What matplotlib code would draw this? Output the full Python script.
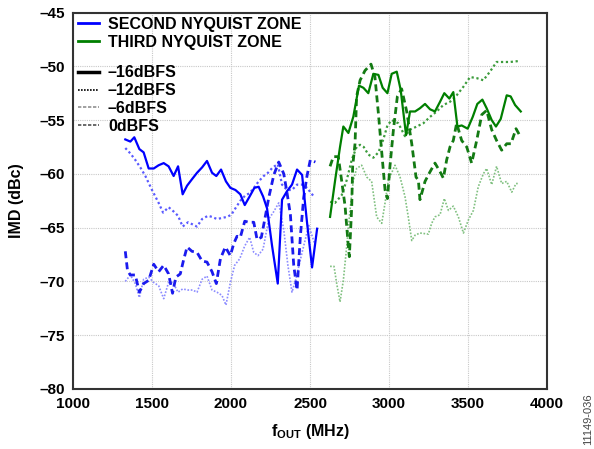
import matplotlib
matplotlib.use("Agg")
import matplotlib.pyplot as plt
from matplotlib.lines import Line2D

plt.rcParams['font.family'] = ['Liberation Sans', 'DejaVu Sans']
plt.rcParams['mathtext.fontset'] = 'custom'
plt.rcParams['mathtext.rm'] = 'Liberation Sans:bold'
plt.rcParams['mathtext.bf'] = 'Liberation Sans:bold'
plt.rcParams['mathtext.it'] = 'Liberation Sans:bold'

# ---------------- data ----------------
# Second Nyquist zone (blue)
z2_m16_f = [1331, 1363, 1388, 1420, 1447, 1479, 1511, 1542, 1574, 1605, 1637, 1665, 1694, 1722,
            1753, 1785, 1817, 1848, 1880, 1907, 1937, 1968, 1996, 2028, 2059, 2087, 2118, 2148,
            2175, 2203, 2228, 2260, 2296, 2323, 2355, 2386, 2418, 2450, 2481, 2513, 2545]
z2_m16_v = [-56.8, -57.0, -56.6, -57.7, -58.0, -59.5, -59.5, -59.2, -59.0, -59.3, -60.2, -59.3,
            -61.9, -61.1, -60.5, -59.9, -59.4, -58.8, -59.9, -60.2, -59.6, -60.7, -61.3, -61.5,
            -61.9, -62.9, -62.1, -61.3, -61.2, -62.1, -63.2, -66.7, -70.2, -62.4, -61.6, -61.0,
            -59.6, -60.1, -64.5, -68.7, -65.1]

z2_m12_f = [1331, 1363, 1394, 1426, 1458, 1500, 1542, 1570, 1605, 1637, 1665, 1694, 1728, 1757,
            1785, 1817, 1854, 1880, 1911, 1943, 1975, 2002, 2028, 2059, 2091, 2118, 2150, 2175,
            2207, 2234, 2264, 2296, 2323, 2355, 2386, 2418, 2450, 2481, 2524]
z2_m12_v = [-57.6, -58.1, -58.7, -59.4, -60.2, -61.5, -62.7, -63.6, -63.1, -63.5, -63.9, -64.9,
            -64.5, -64.7, -64.9, -64.2, -63.9, -64.0, -64.2, -64.1, -64.0, -63.8, -63.2, -62.5,
            -62.0, -61.8, -61.2, -60.7, -60.2, -59.9, -59.4, -59.1, -61.0, -61.5, -61.5, -61.0,
            -61.0, -61.3, -62.1]

z2_m6_f = [1331, 1345, 1363, 1394, 1420, 1447, 1479, 1511, 1542, 1574, 1605, 1630, 1651, 1679,
           1700, 1722, 1753, 1785, 1817, 1848, 1880, 1907, 1933, 1964, 1996, 2017, 2038, 2059,
           2087, 2112, 2144, 2165, 2192, 2218, 2239, 2271, 2302, 2334, 2355, 2376, 2397, 2418,
           2439, 2460, 2481, 2502, 2534]
z2_m6_v = [-67.2, -69.0, -69.4, -69.4, -71.0, -70.2, -69.9, -68.4, -69.1, -68.5, -69.3, -71.1,
           -69.6, -69.3, -68.0, -66.8, -67.2, -67.3, -68.1, -68.2, -69.1, -70.2, -67.9, -66.8,
           -67.6, -66.5, -65.8, -65.9, -64.4, -64.5, -64.5, -66.1, -65.9, -63.9, -62.2, -60.1,
           -58.9, -60.0, -61.8, -63.8, -68.5, -70.8, -65.8, -62.2, -60.2, -58.7, -58.9]

z2_0_f = [1331, 1363, 1394, 1420, 1447, 1479, 1511, 1542, 1574, 1605, 1632, 1665, 1694, 1728,
          1757, 1785, 1817, 1848, 1880, 1911, 1943, 1968, 1996, 2023, 2055, 2087, 2118, 2144,
          2171, 2203, 2239, 2271, 2302, 2334, 2360, 2386, 2410, 2450, 2492, 2534]
z2_0_v = [-70.0, -69.4, -70.2, -71.5, -69.8, -69.6, -70.1, -70.4, -71.6, -70.1, -70.1, -71.0,
          -70.7, -70.8, -70.8, -71.0, -69.8, -69.5, -70.8, -71.0, -71.3, -72.2, -70.1, -68.5,
          -67.9, -66.7, -65.9, -67.3, -67.6, -67.0, -64.2, -63.5, -62.7, -65.2, -68.5, -71.0,
          -69.8, -67.3, -64.8, -66.7]

# Third Nyquist zone (green)
z3_m16_f = [2627, 2660, 2690, 2711, 2743, 2774, 2810, 2838, 2869, 2901, 2933, 2960, 2990, 3017,
            3049, 3074, 3108, 3133, 3165, 3196, 3228, 3260, 3291, 3323, 3350, 3382, 3407, 3433,
            3460, 3498, 3530, 3559, 3591, 3618, 3650, 3677, 3707, 3745, 3770, 3798, 3834]
z3_m16_v = [-64.0, -60.5, -57.5, -55.6, -56.2, -54.7, -51.8, -52.0, -52.5, -50.7, -50.8, -52.0,
            -52.5, -50.7, -50.5, -52.2, -56.4, -54.2, -54.2, -53.9, -53.5, -54.0, -54.2, -53.3,
            -52.5, -53.0, -52.4, -55.6, -55.5, -55.8, -54.7, -53.5, -53.1, -53.9, -55.0, -55.6,
            -54.9, -52.7, -52.8, -53.6, -54.2]

z3_m12_f = [2627, 2658, 2700, 2732, 2764, 2795, 2817, 2840, 2869, 2901, 2933, 2964, 2990, 3017,
            3059, 3101, 3133, 3175, 3217, 3260, 3302, 3344, 3386, 3428, 3471, 3513, 3555, 3597,
            3639, 3681, 3724, 3766, 3829]
z3_m12_v = [-62.6, -62.7, -62.0, -60.6, -58.7, -57.5, -57.3, -57.5, -58.2, -58.5, -58.0, -56.8,
            -55.5, -55.0, -55.3, -56.5, -55.9, -55.6, -55.3, -54.7, -54.2, -53.6, -53.3, -52.7,
            -51.9, -51.0, -51.1, -51.3, -50.5, -49.6, -49.6, -49.6, -49.5]

z3_m6_f = [2627, 2648, 2679, 2700, 2722, 2743, 2749, 2764, 2770, 2785, 2795, 2817, 2848, 2886,
           2911, 2933, 2954, 2975, 2990, 3006, 3028, 3053, 3080, 3112, 3144, 3171, 3186, 3196,
           3228, 3260, 3291, 3323, 3344, 3365, 3386, 3407, 3428, 3460, 3492, 3523, 3555, 3587,
           3618, 3650, 3681, 3713, 3745, 3772, 3804, 3834]
z3_m6_v = [-59.3, -58.4, -58.4, -60.6, -63.0, -66.8, -67.7, -63.1, -59.3, -57.2, -52.8, -51.3,
           -50.4, -49.8, -51.0, -54.4, -58.0, -61.5, -62.3, -59.3, -55.9, -52.8, -52.1, -54.2,
           -57.2, -60.3, -60.6, -62.4, -60.7, -59.8, -59.0, -59.8, -60.4, -58.7, -57.5, -56.9,
           -55.3, -56.9, -57.5, -59.0, -56.9, -54.5, -54.1, -55.9, -56.9, -57.8, -57.2, -57.2,
           -55.8, -56.6]

z3_0_f = [2627, 2652, 2669, 2690, 2711, 2732, 2753, 2774, 2795, 2827, 2859, 2890, 2922, 2954,
          2975, 2996, 3038, 3070, 3101, 3122, 3144, 3165, 3196, 3249, 3270, 3291, 3323, 3350,
          3376, 3407, 3439, 3471, 3502, 3534, 3565, 3597, 3618, 3650, 3681, 3713, 3745, 3777,
          3804, 3825]
z3_0_v = [-68.6, -68.6, -70.2, -71.9, -69.9, -66.8, -63.4, -60.6, -59.5, -59.2, -60.3, -60.7,
          -64.0, -64.6, -62.7, -60.6, -59.2, -60.3, -62.1, -64.0, -66.2, -65.7, -65.5, -65.6,
          -64.6, -64.0, -63.8, -62.3, -63.4, -63.0, -64.0, -65.5, -64.3, -63.4, -61.2, -60.0,
          -59.5, -61.0, -59.3, -60.9, -60.7, -61.7, -60.9, -60.9]

x_ticks = [1000, 1500, 2000, 2500, 3000, 3500, 4000]
y_ticks = [-80, -75, -70, -65, -60, -55, -50, -45]
y_tick_labels = ['–80', '–75', '–70', '–65', '–60', '–55', '–50', '–45']
zone_labels = ['SECOND NYQUIST ZONE', 'THIRD NYQUIST ZONE']
level_labels = ['–16dBFS', '–12dBFS', '–6dBFS', '0dBFS']

# ---------------- figure ----------------
fig = plt.figure(figsize=(5.94, 4.49), dpi=100)
ax = fig.add_axes([73/594, 1-389/449, 474/594, 376.5/449])

BLUE = '#0000ff'
GREEN = '#007f00'

ax.plot(z2_0_f, z2_0_v, color='#8c8cff', lw=1.2, linestyle=(0, (1, 1)))
ax.plot(z2_m12_f, z2_m12_v, color='#5a5aff', lw=1.6, linestyle=(0, (1, 1.2)))
ax.plot(z2_m6_f, z2_m6_v, color='#1a1aee', lw=2.0, linestyle=(0, (2.5, 1.5)))
ax.plot(z2_m16_f, z2_m16_v, color=BLUE, lw=1.6)

ax.plot(z3_0_f, z3_0_v, color='#80c080', lw=1.2, linestyle=(0, (1, 1)))
ax.plot(z3_m12_f, z3_m12_v, color='#3c9c3c', lw=1.6, linestyle=(0, (1, 1.2)))
ax.plot(z3_m6_f, z3_m6_v, color='#137a13', lw=2.0, linestyle=(0, (2.5, 1.5)))
ax.plot(z3_m16_f, z3_m16_v, color=GREEN, lw=1.6)

ax.set_xlim(1000, 4000)
ax.set_ylim(-80, -45)
ax.set_xticks(x_ticks)
ax.set_xticklabels([str(t) for t in x_ticks])
ax.set_yticks(y_ticks)
ax.set_yticklabels(y_tick_labels)
ax.tick_params(length=0, labelsize=11, pad=6)
for lab in ax.get_xticklabels() + ax.get_yticklabels():
    lab.set_fontweight('bold')
ax.grid(True, color='#c8c8c8', linestyle=(0, (1, 1)), lw=0.8)
for sp in ax.spines.values():
    sp.set_linewidth(1.5)
    sp.set_color('#333333')

ax.set_xlabel(r'f$_{\mathbf{OUT}}$ (MHz)', fontsize=11.5, fontweight='bold', labelpad=8)
ax.set_ylabel('IMD (dBc)', fontsize=11.5, fontweight='bold', labelpad=11)

h1 = [Line2D([], [], color=BLUE, lw=2), Line2D([], [], color=GREEN, lw=2)]
leg1 = ax.legend(h1, zone_labels, loc='upper left', bbox_to_anchor=(0.008, 0.993),
                 frameon=False, handlelength=1.3, handletextpad=0.55,
                 labelspacing=0.18, borderpad=0.1, borderaxespad=0,
                 prop={'weight': 'bold', 'size': 11.5})
ax.add_artist(leg1)
h2 = [Line2D([], [], color='black', lw=2.5),
      Line2D([], [], color='black', lw=1.2, linestyle=(0, (1, 0.8))),
      Line2D([], [], color='#909090', lw=1.2, linestyle=(0, (2, 1))),
      Line2D([], [], color='#505050', lw=1.2, linestyle=(0, (2, 1)))]
ax.legend(h2, level_labels, loc='upper left', bbox_to_anchor=(0.008, 0.864),
          frameon=False, handlelength=1.3, handletextpad=0.55,
          labelspacing=0.18, borderpad=0.1, borderaxespad=0,
          prop={'weight': 'bold', 'size': 11.5})

fig.text(588/594, 1-419/449, '11149-036', rotation=90, fontsize=8, color='#444444',
         ha='center', va='center')

fig.savefig('out.png', dpi=100)
